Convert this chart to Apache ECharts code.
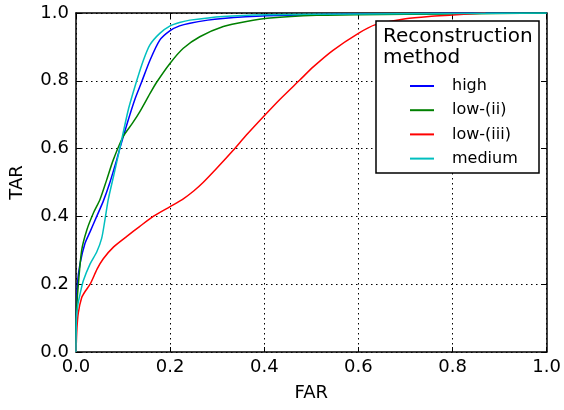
<!DOCTYPE html>
<html>
<head>
<meta charset="utf-8">
<script src="https://cdn.jsdelivr.net/npm/echarts@6/dist/echarts.min.js"></script>
<style>html,body{margin:0;padding:0;background:#fff}#c{width:564px;height:410px}</style>
</head>
<body>
<div id="c"></div>
<script>
const seriesNames = ['high', 'low-(ii)', 'low-(iii)', 'medium'];
const tickValues = [0.0, 0.2, 0.4, 0.6, 0.8, 1.0];
const high = [[0,0],[0.001,0.12],[0.003,0.2],[0.0085,0.26],[0.019,0.32],[0.03,0.355],[0.044,0.40],[0.058,0.445],[0.072,0.5],[0.085,0.56],[0.093,0.6],[0.11,0.68],[0.125,0.745],[0.139,0.795],[0.157,0.86],[0.178,0.92],[0.2,0.948],[0.22,0.962],[0.242,0.97],[0.28,0.979],[0.312,0.984],[0.36,0.989],[0.405,0.992],[0.5,0.995],[0.6,0.997],[0.8,0.999],[1.0,1.0]];
const lowII = [[0,0],[0.001,0.12],[0.005,0.2],[0.012,0.3],[0.023,0.36],[0.037,0.41],[0.051,0.45],[0.065,0.507],[0.079,0.566],[0.1,0.635],[0.12,0.675],[0.136,0.71],[0.157,0.762],[0.171,0.795],[0.2,0.852],[0.228,0.896],[0.263,0.93],[0.313,0.96],[0.362,0.975],[0.412,0.985],[0.511,0.993],[0.6,0.995],[0.8,0.997],[1.0,1.0]];
const lowIII = [[0,0],[0.002,0.07],[0.005,0.116],[0.012,0.16],[0.02,0.18],[0.03,0.2],[0.045,0.245],[0.058,0.275],[0.08,0.31],[0.108,0.341],[0.135,0.37],[0.164,0.4],[0.2,0.429],[0.228,0.452],[0.25,0.475],[0.27,0.5],[0.299,0.542],[0.334,0.595],[0.362,0.64],[0.4,0.697],[0.433,0.745],[0.476,0.803],[0.504,0.841],[0.546,0.89],[0.6,0.94],[0.635,0.965],[0.7,0.983],[0.75,0.99],[0.8,0.994],[0.87,1.0]];
const medium = [[0,0],[0.001,0.1],[0.004,0.14],[0.0085,0.17],[0.0155,0.21],[0.03,0.26],[0.044,0.295],[0.0545,0.335],[0.0615,0.39],[0.0686,0.45],[0.08,0.52],[0.093,0.6],[0.111,0.714],[0.129,0.8],[0.143,0.86],[0.157,0.906],[0.178,0.94],[0.2,0.962],[0.22,0.972],[0.242,0.979],[0.312,0.99],[0.405,0.995],[0.6,0.997],[1.0,1.0]];
const seriesData = [high, lowII, lowIII, medium];
const colors = ['#0000ff', '#008000', '#ff0000', '#00bfbf'];

const FONT = 'DejaVu Sans';
const fmt = v => v.toFixed(1);
function axisBase(pos, showLabel, isX) {
  return {
    type: 'value', min: 0, max: 1, interval: 0.2, position: pos,
    axisLine: { show: true, onZero: false, lineStyle: { color: '#000', width: 1.5 } },
    axisTick: { show: true, inside: true, length: 5, lineStyle: { color: '#000', width: 1 } },
    axisLabel: { show: showLabel, formatter: v => fmt(v), color: '#000', fontFamily: FONT, fontSize: 18, margin: isX ? 6 : 7 },
    splitLine: { show: showLabel, lineStyle: { color: '#000', type: [1.5, 3.5], width: 1 } }
  };
}
const chart = echarts.init(document.getElementById('c'), null, { renderer: 'canvas' });
const xMain = Object.assign(axisBase('bottom', true, true), { name: 'FAR', nameLocation: 'middle', nameGap: 32, nameTextStyle: { color: '#000', fontFamily: FONT, fontSize: 18 } });
const yMain = Object.assign(axisBase('left', true, false), { name: 'TAR', nameLocation: 'middle', nameGap: 50, nameTextStyle: { color: '#000', fontFamily: FONT, fontSize: 18 } });
chart.setOption({
  animation: false,
  backgroundColor: '#fff',
  grid: { left: 76, right: 17, top: 13, bottom: 58, containLabel: false },
  xAxis: [xMain, axisBase('top', false, true)],
  yAxis: [yMain, axisBase('right', false, false)],
  legend: {
    orient: 'vertical', left: 405, top: 72, z: 10,
    icon: 'rect', itemWidth: 24, itemHeight: 2, itemGap: 6.2,
    data: seriesNames,
    textStyle: { color: '#000', fontFamily: FONT, fontSize: 16, lineHeight: 18, padding: [0, 0, 0, 13] }
  },
  graphic: [
    { type: 'rect', z: 5, shape: { x: 376, y: 21, width: 163, height: 152 }, style: { fill: '#fff', stroke: '#000', lineWidth: 1.5 } },
    { type: 'text', z: 6, left: 383, top: 26, style: { text: 'Reconstruction\nmethod', fill: '#000', font: '20px "DejaVu Sans"', lineHeight: 21 } }
  ],
  series: seriesNames.map((n, i) => ({
    name: n, type: 'line', data: seriesData[i], showSymbol: false, smooth: 0.25,
    xAxisIndex: 0, yAxisIndex: 0, color: colors[i],
    lineStyle: { color: colors[i], width: 1.5 }, z: 2 + i * 0.1, clip: true
  }))
});
</script>
</body>
</html>
